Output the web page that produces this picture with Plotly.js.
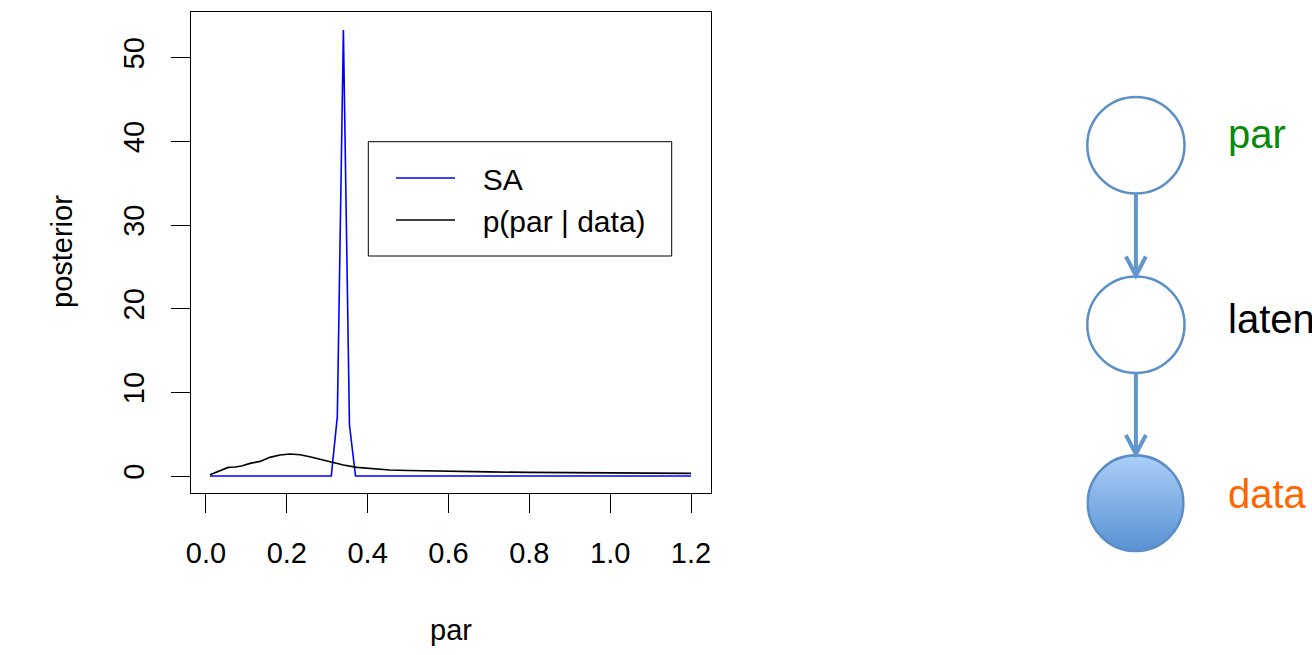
<!DOCTYPE html>
<html>
<head>
<meta charset="utf-8">
<script src="https://cdn.plot.ly/plotly-3.0.1.min.js"></script>
<style>html,body{margin:0;padding:0;background:#fff;}#chart{width:1312px;height:655px;}</style>
</head>
<body>
<div id="chart"></div>
<script>
// ---- data ----
const saPar = [0.01, 0.31, 0.325, 0.34, 0.355, 0.37, 1.2];
const saDensity = [0, 0, 7.1, 53.3, 6.1, 0, 0];

const postPar = [0.01, 0.035, 0.055, 0.072, 0.088, 0.109, 0.134, 0.158, 0.183, 0.208, 0.233, 0.257, 0.282, 0.315, 0.34, 0.373, 0.406, 0.455, 0.5, 0.55, 0.6, 0.7, 0.8, 0.9, 1.0, 1.1, 1.2];
const postDensity = [0.16, 0.63, 1.03, 1.07, 1.19, 1.51, 1.75, 2.23, 2.51, 2.63, 2.55, 2.31, 1.99, 1.56, 1.32, 1.03, 0.87, 0.72, 0.66, 0.6, 0.55, 0.49, 0.43, 0.39, 0.36, 0.33, 0.31];

const xTicks = [0, 0.2, 0.4, 0.6, 0.8, 1.0, 1.2];
const yTicks = [0, 10, 20, 30, 40, 50];
const seriesNames = ['SA', 'p(par | data)'];
const nodeLabels = ['par', 'latent', 'data'];

// ---- layout helpers (pixel -> paper) ----
const W = 1312, H = 655;
const px = v => v / W;
const py = v => 1 - v / H;
const FONT = 'Liberation Sans, Arial, Helvetica, sans-serif';
const nb = '\u00a0\u00a0\u2009';

const traces = [
  {x: saPar, y: saDensity, type: 'scatter', mode: 'lines', name: nb + seriesNames[0],
   line: {color: '#0000ff', width: 1.6}},
  {x: postPar, y: postDensity, type: 'scatter', mode: 'lines', name: nb + seriesNames[1],
   line: {color: '#000000', width: 1.6}}
];

const axisCommon = {
  showline: true, mirror: true, linecolor: '#000', linewidth: 1,
  ticks: 'outside', ticklen: 19, tickcolor: '#000', tickwidth: 1,
  showgrid: false, zeroline: false,
  tickfont: {family: FONT, size: 29, color: '#000'}
};

// node geometry (diagram decoration)
const cx0 = 1087.3, cx1 = 1184.5;
const nodeTops = [97, 276.5, 455];
const nodeD = 96.5;

const shapes = [
  // legend frame
  {type: 'rect', xref: 'paper', yref: 'paper', x0: px(368.3), x1: px(671.7), y0: py(141.7), y1: py(256),
   line: {color: '#000', width: 1}, fillcolor: 'rgba(0,0,0,0)'},
  // empty nodes
  {type: 'circle', xref: 'paper', yref: 'paper', x0: px(cx0), x1: px(cx1), y0: py(nodeTops[0]), y1: py(nodeTops[0] + nodeD),
   line: {color: '#5b8fc8', width: 2.5}, fillcolor: '#ffffff'},
  {type: 'circle', xref: 'paper', yref: 'paper', x0: px(cx0), x1: px(cx1), y0: py(nodeTops[1]), y1: py(nodeTops[1] + nodeD),
   line: {color: '#5b8fc8', width: 2.5}, fillcolor: '#ffffff'}
];

const midX = (cx0 + cx1) / 2;
function arrow(yStart, yTip) {
  shapes.push({type: 'line', xref: 'paper', yref: 'paper', x0: px(midX), x1: px(midX), y0: py(yStart), y1: py(yTip - 1),
    line: {color: '#6196cc', width: 4}});
  shapes.push({type: 'path', xref: 'paper', yref: 'paper',
    path: 'M' + px(midX - 10) + ',' + py(yTip - 20) + ' L' + px(midX) + ',' + py(yTip - 1) + ' L' + px(midX + 10) + ',' + py(yTip - 20),
    line: {color: '#6196cc', width: 4}});
}
arrow(nodeTops[0] + nodeD, nodeTops[1]);
arrow(nodeTops[1] + nodeD, nodeTops[2]);

const svg = "<svg xmlns='http://www.w3.org/2000/svg' width='100' height='100' viewBox='0 0 100 100'>" +
  "<defs><linearGradient id='g' x1='0' y1='0' x2='0' y2='1'>" +
  "<stop offset='0' stop-color='#abcff8'/><stop offset='1' stop-color='#5891d3'/></linearGradient></defs>" +
  "<circle cx='50' cy='50' r='48.6' fill='url(#g)' stroke='#5b8ec6' stroke-width='2.6'/></svg>";

const images = [{
  source: 'data:image/svg+xml;charset=utf-8,' + encodeURIComponent(svg),
  xref: 'paper', yref: 'paper', x: px(cx0 - 1), y: py(nodeTops[2] - 1),
  sizex: px(nodeD + 2), sizey: (nodeD + 2) / H, xanchor: 'left', yanchor: 'top', sizing: 'stretch', layer: 'above'
}];

const labelColors = ['#078a07', '#000000', '#ff6600'];
const labelMid = [134.5, 319, 494];
const annotations = nodeLabels.map((t, i) => ({
  text: t, xref: 'paper', yref: 'paper', x: px(1226), y: py(labelMid[i]),
  xanchor: 'left', yanchor: 'middle', showarrow: false,
  font: {family: FONT, size: 40, color: labelColors[i]}
}));
annotations.push({text: 'par', xref: 'paper', yref: 'paper', x: px(451), y: py(630),
  xanchor: 'center', yanchor: 'middle', showarrow: false, font: {family: FONT, size: 29, color: '#000'}});
annotations.push({text: 'posterior', xref: 'paper', yref: 'paper', x: px(62), y: py(252),
  xanchor: 'center', yanchor: 'middle', textangle: -90, showarrow: false, font: {family: FONT, size: 29, color: '#000'}});

const layout = {
  width: W, height: H,
  margin: {l: 0, r: 0, t: 0, b: 0, pad: 0},
  paper_bgcolor: '#fff', plot_bgcolor: '#fff',
  font: {family: FONT, color: '#000'},
  xaxis: Object.assign({}, axisCommon, {
    domain: [px(191), px(711)], range: [-0.037, 1.2494],
    tickvals: xTicks, ticktext: xTicks.map(v => v.toFixed(1)), ticklabelstandoff: 15
  }),
  yaxis: Object.assign({}, axisCommon, {
    domain: [py(493), py(12)], range: [-2.03, 55.46],
    tickvals: yTicks, ticktext: yTicks.map(String), tickangle: -90, ticklabelstandoff: 15
  }),
  showlegend: true,
  legend: {
    x: px(391), y: py(152), xanchor: 'left', yanchor: 'top',
    bgcolor: 'rgba(0,0,0,0)', borderwidth: 0, itemwidth: 59,
    font: {family: FONT, size: 30, color: '#000'}, tracegroupgap: 0
  },
  shapes: shapes, images: images, annotations: annotations
};

Plotly.newPlot('chart', traces, layout, {staticPlot: true, displayModeBar: false});
</script>
</body>
</html>
